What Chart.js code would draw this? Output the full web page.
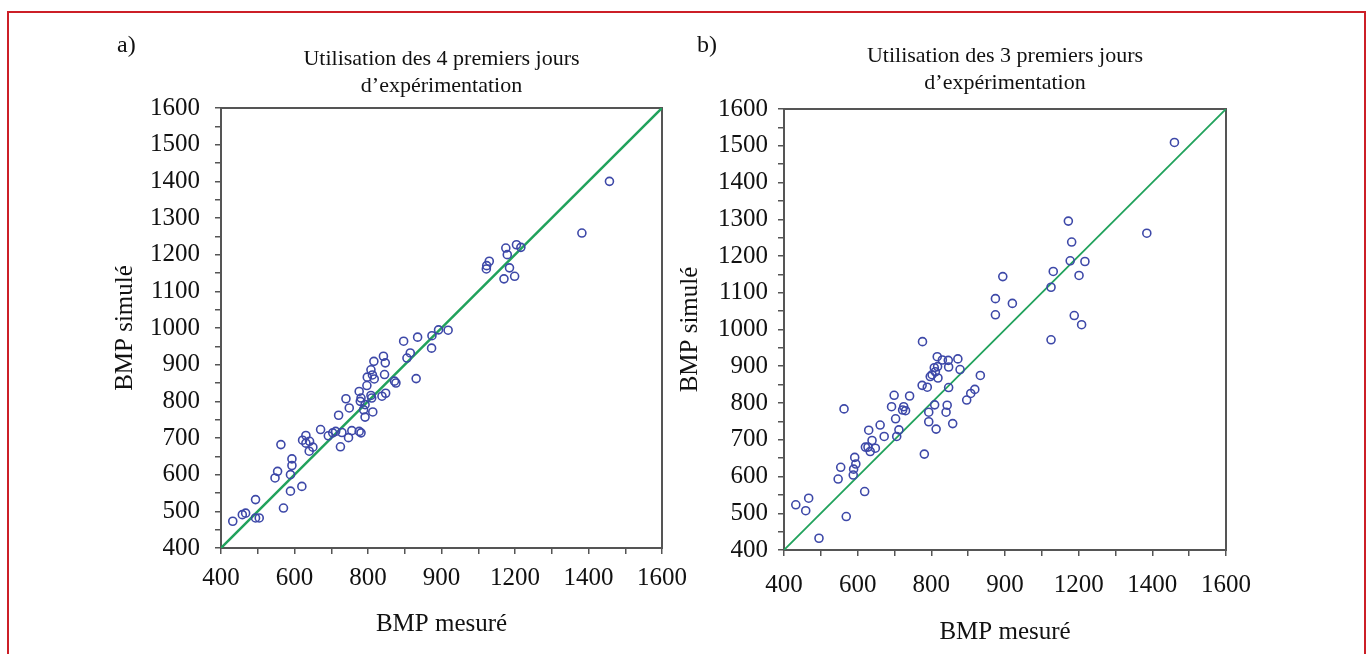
<!DOCTYPE html>
<html>
<head>
<meta charset="utf-8">
<script src="https://cdn.jsdelivr.net/npm/chart.js@4.4.1/dist/chart.umd.min.js"></script>
<style>
  html, body { margin: 0; padding: 0; background: #fff; overflow: hidden; }
  body { width: 1370px; height: 654px; position: relative; font-family: "Liberation Serif", serif; }
  .frame { position: absolute; left: 7px; top: 11px; width: 1359px; height: 700px; border: 2px solid #cc1f27; box-sizing: border-box; }
  canvas { position: absolute; top: 0; }
  #chartA { left: 20px; }
  #chartB { left: 670px; }
  .panel { position: absolute; top: 31px; font-size: 24px; color: #111; }
</style>
</head>
<body>
<div class="frame"></div>
<canvas id="chartA" width="700" height="654"></canvas>
<canvas id="chartB" width="680" height="654"></canvas>
<div class="panel" style="left:117px">a)</div>
<div class="panel" style="left:697px">b)</div>
<script>
// a) 4 premiers jours
const mesureA = [432, 458, 467, 494, 494, 504, 570, 563, 547, 554, 589, 593, 593, 589, 620,
  631, 622, 641, 631, 650, 640, 671, 692, 704, 712, 729, 720, 725, 747, 756, 776, 781,
  740, 749, 776, 781, 779, 788, 792, 797, 798, 808, 812, 817, 816, 813, 810, 808, 842,
  847, 845, 838, 848, 792, 872, 876, 897, 906, 915, 931, 935, 974, 973, 992, 1018,
  1122, 1123, 1130, 1175, 1179, 1185, 1170, 1199, 1204, 1216, 1382, 1457];
const simuleA = [473, 491, 495, 532, 482, 482, 509, 682, 591, 609, 600, 625, 643, 555, 568,
  707, 694, 691, 686, 675, 664, 723, 706, 714, 718, 715, 762, 676, 701, 720, 718, 714,
  807, 782, 827, 809, 800, 777, 757, 843, 866, 886, 872, 861, 909, 771, 809, 816, 923,
  905, 873, 814, 822, 791, 855, 850, 964, 918, 932, 862, 975, 979, 945, 995, 994,
  1161, 1170, 1182, 1218, 1200, 1164, 1134, 1141, 1227, 1220, 1259, 1400];

// b) 3 premiers jours
const mesureB = [432, 459, 467, 495, 569, 563, 547, 554, 588, 589, 595, 592, 619, 630, 621,
  628, 639, 634, 648, 661, 672, 699, 692, 703, 712, 706, 722, 730, 725, 741, 776, 775,
  789, 781, 793, 793, 797, 802, 809, 813, 808, 811, 817, 818, 816, 830, 846, 847, 872,
  878, 843, 840, 847, 858, 896, 907, 918, 933, 974, 974, 994, 1020, 1125, 1131, 1125,
  1172, 1181, 1177, 1217, 1201, 1188, 1208, 1385, 1460];
const simuleB = [523, 507, 541, 432, 491, 784, 593, 625, 604, 620, 634, 652, 559, 726, 680,
  680, 698, 668, 677, 740, 709, 821, 790, 757, 727, 709, 781, 779, 790, 819, 967, 848,
  843, 661, 775, 749, 872, 877, 795, 729, 896, 885, 899, 868, 926, 917, 916, 898, 920,
  891, 794, 775, 842, 744, 808, 826, 837, 875, 1040, 1084, 1144, 1071, 1115, 1158, 972,
  1295, 1238, 1187, 1185, 1147, 1038, 1013, 1262, 1509];

// droite 1:1
const ligne = [400, 1600];

const xTickValues = [400, 600, 800, 1000, 1200, 1400, 1600];
const xTickLabels = ['400', '600', '800', '900', '1200', '1400', '1600'];

const titreA = ['Utilisation des 4 premiers jours', 'd\u2019exp\u00e9rimentation'];
const titreB = ['Utilisation des 3 premiers jours', 'd\u2019exp\u00e9rimentation'];

const serif = '"Liberation Serif", "Times New Roman", serif';
const ink = '#111';
const axe = '#555';

function fix(size, prop) {
  return s => {
    s[prop] = size;
    s.paddingLeft = 0; s.paddingRight = 0; s.paddingTop = 0; s.paddingBottom = 0;
  };
}

function makeChart(id, xs, ys, titre, g) {
  const pts = xs.map((x, i) => ({ x: x, y: ys[i] }));
  new Chart(document.getElementById(id), {
    type: 'scatter',
    data: {
      datasets: [{
        data: pts,
        pointStyle: 'circle',
        pointRadius: 4,
        pointBorderWidth: 1.6,
        borderColor: '#3d48a8',
        backgroundColor: 'rgba(0,0,0,0)'
      }, {
        type: 'line',
        data: ligne.map(v => ({ x: v, y: v })),
        borderColor: '#21a25c',
        borderWidth: g.lw,
        pointRadius: 0,
        fill: false
      }]
    },
    options: {
      responsive: false,
      animation: false,
      layout: { padding: 0 },
      plugins: { legend: { display: false }, tooltip: { enabled: false } },
      scales: {
        x: {
          type: 'linear', position: 'bottom', min: 400, max: 1600,
          afterFit: fix(g.xh, 'height'),
          border: { display: true, color: axe, width: 2 },
          grid: { display: true, drawOnChartArea: false, drawTicks: true, tickLength: 6, color: axe, lineWidth: 1.5 },
          ticks: {
            stepSize: 100, autoSkip: false, maxRotation: 0, minRotation: 0,
            padding: g.xpad, color: ink, font: { family: serif, size: 25 },
            callback: v => {
              const i = xTickValues.indexOf(v);
              return i >= 0 ? xTickLabels[i] : '';
            }
          },
          title: { display: true, text: 'BMP mesur\u00e9', color: ink, font: { family: serif, size: 25 }, padding: { top: 0, bottom: g.xtb } }
        },
        x2: {
          axis: 'x', type: 'linear', position: 'top', min: 400, max: 1600,
          afterFit: fix(g.top, 'height'),
          border: { display: true, color: axe, width: 2 },
          grid: { display: false, drawTicks: false },
          ticks: { display: false },
          title: { display: true, text: titre, color: ink, font: { family: serif, size: 22, lineHeight: 1.23 }, padding: { top: g.tt, bottom: 0 } }
        },
        y: {
          type: 'linear', position: 'left', min: 400, max: 1600,
          afterFit: fix(g.yw, 'width'),
          border: { display: true, color: axe, width: 2 },
          grid: { display: true, drawOnChartArea: false, drawTicks: true, tickLength: 6, color: axe, lineWidth: 1.5 },
          ticks: {
            stepSize: 50, autoSkip: false, padding: g.ypad, color: ink, font: { family: serif, size: 25 },
            callback: v => (v % 100 === 0 ? String(v) : '')
          },
          title: { display: true, text: 'BMP simul\u00e9', color: ink, font: { family: serif, size: 25 }, padding: { top: g.ytt, bottom: 0 } }
        },
        y2: {
          axis: 'y', type: 'linear', position: 'right', min: 400, max: 1600,
          afterFit: fix(g.y2w, 'width'),
          border: { display: true, color: axe, width: 2 },
          grid: { display: false, drawTicks: false },
          ticks: { display: false }
        }
      }
    }
  });
}

makeChart('chartA', mesureA, simuleA, titreA,
  { xh: 106, top: 108, yw: 201, y2w: 58, xpad: 9, xtb: 15, tt: 46, ypad: 15, ytt: 90, lw: 2.5 });
makeChart('chartB', mesureB, simuleB, titreB,
  { xh: 104, top: 109, yw: 114, y2w: 124, xpad: 14, xtb: 7, tt: 43, ypad: 10, ytt: 5, lw: 1.8 });
</script>
</body>
</html>
